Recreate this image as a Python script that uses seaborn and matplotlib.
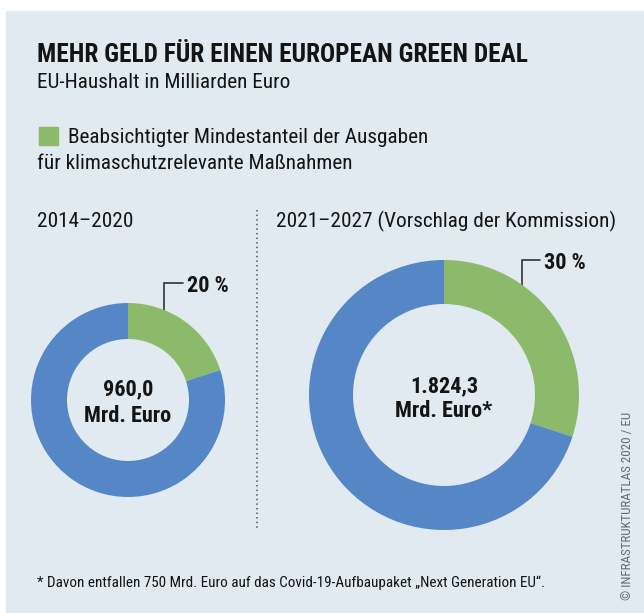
import matplotlib
matplotlib.use("Agg")
import matplotlib.pyplot as plt
from matplotlib import font_manager as fm
from matplotlib.patches import Rectangle
import seaborn as sns

# ---- data -------------------------------------------------------------
periods = ["2014–2020", "2021–2027 (Vorschlag der Kommission)"]
climate_share = [20, 30]                 # percent of budget for climate measures
budget_totals = ["960,0", "1.824,3"]     # billion euro
budget_units = ["Mrd. Euro", "Mrd. Euro*"]
share_labels = ["20 %", "30 %"]

title = "MEHR GELD FÜR EINEN EUROPEAN GREEN DEAL"
subtitle = "EU-Haushalt in Milliarden Euro"
legend_lines = ["Beabsichtigter Mindestanteil der Ausgaben",
                "für klimaschutzrelevante Maßnahmen"]
footnote = "* Davon entfallen 750 Mrd. Euro auf das Covid-19-Aufbaupaket „Next Generation EU“."
credit = "© INFRASTRUKTURATLAS 2020 / EU"

# ---- style ------------------------------------------------------------
sns.set_theme(style="white")
GREEN, BLUE = sns.color_palette(["#8cba6b", "#5586c6"])
PANEL = "#e1e9f1"
INK = "#141414"

available = {f.name for f in fm.fontManager.ttflist}
family = "DejaVu Sans"
for cand in ["Liberation Sans Narrow", "Roboto Condensed", "Open Sans Condensed", "Roboto"]:
    if cand in available:
        family = cand
        break
plt.rcParams["font.family"] = [family, "DejaVu Sans"]

BODY = 15.3
BOLD_LABEL = 16.0

W, H = 644, 613
fig = plt.figure(figsize=(W / 100, H / 100), dpi=100)
fig.patch.set_facecolor("white")

# pixel-coordinate canvas
ax0 = fig.add_axes([0, 0, 1, 1])
ax0.set_xlim(0, W)
ax0.set_ylim(H, 0)
ax0.axis("off")
ax0.add_patch(Rectangle((6, 11), W - 6, 601, color=PANEL, zorder=0))

ax0.text(37, 62, title, fontsize=18.2, fontweight="bold", color=INK, va="baseline")
ax0.text(37, 88, subtitle, fontsize=BODY, color=INK, va="baseline")
ax0.add_patch(Rectangle((39, 127), 19, 18, color=GREEN, zorder=2))
ax0.text(68, 143, legend_lines[0], fontsize=BODY, color=INK, va="baseline")
ax0.text(37, 169, legend_lines[1], fontsize=BODY, color=INK, va="baseline")

ax0.text(37, 227, periods[0], fontsize=BODY, color=INK, va="baseline")
ax0.text(276, 227, periods[1], fontsize=BODY, color=INK, va="baseline")

ax0.plot([257, 257], [210, 530], color="#555555", lw=1.1, linestyle=(0, (1, 2)))

ax0.text(37, 587, footnote, fontsize=10.9, color=INK, va="baseline")
ax0.text(628, 600, credit, fontsize=9.4, color="#6a6a6a", rotation=90,
         ha="center", va="bottom")

# ---- donuts -----------------------------------------------------------
# (centre x, centre y, outer radius, inner radius) in pixels
rings = [(128, 400, 97, 61), (444, 395, 135, 91)]
leaders = [(164, 283, 183), (522, 260, 540)]   # leader x, elbow y, end x
total_baselines = [395, 392]
unit_baselines = [422, 417]

for i, (cx, cy, R, r) in enumerate(rings):
    ax = fig.add_axes([(cx - R) / W, (H - (cy + R)) / H, 2 * R / W, 2 * R / H])
    ax.pie([climate_share[i], 100 - climate_share[i]], colors=[GREEN, BLUE],
           startangle=90, counterclock=False, radius=1,
           wedgeprops=dict(width=(R - r) / R, linewidth=0))
    ax.set_xlim(-1, 1)
    ax.set_ylim(-1, 1)
    ax.set_aspect("auto")
    ax.axis("off")
    ax.patch.set_alpha(0)

    # centre labels
    ax0.text(cx, total_baselines[i], budget_totals[i], fontsize=BOLD_LABEL,
             fontweight="bold", color=INK, ha="center", va="baseline", zorder=5)
    ax0.text(cx, unit_baselines[i], budget_units[i], fontsize=BOLD_LABEL,
             fontweight="bold", color=INK, ha="center", va="baseline", zorder=5)

    # leader line from the ring edge to the share label
    lx, ly, ex = leaders[i]
    ring_y = cy - (R ** 2 - (lx - cx) ** 2) ** 0.5
    ax0.plot([lx, lx, ex], [ring_y + 1, ly, ly], color="#333333", lw=1.2,
             solid_joinstyle="miter", zorder=5)
    ax0.text(ex + 4, ly + 9, share_labels[i], fontsize=BOLD_LABEL, fontweight="bold",
             color=INK, va="baseline", zorder=5)

fig.savefig("out.png", dpi=100, facecolor="white")
